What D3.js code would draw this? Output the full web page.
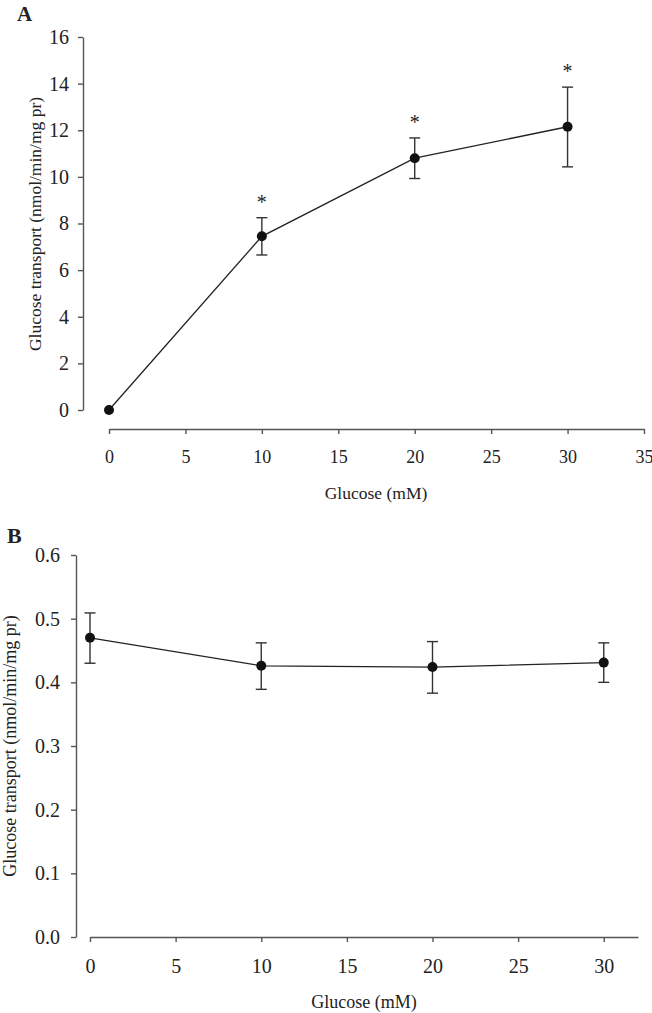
<!DOCTYPE html>
<html>
<head>
<meta charset="utf-8">
<script src="https://cdn.jsdelivr.net/npm/d3@7"></script>
<style>
  html, body { margin: 0; padding: 0; background: #fff; }
  svg { display: block; }
  text { font-family: "Liberation Serif", "Times New Roman", serif; fill: #222; }
</style>
</head>
<body>
<svg id="chart" width="652" height="1013"></svg>
<script>
// Panel A data
const glucoseA = [0, 10, 20, 30];
const transportA = [0, 7.45, 10.8, 12.15];
const errUpA = [0, 0.8, 0.87, 1.7];
const errDownA = [0, 0.8, 0.87, 1.72];
const starsA = [false, true, true, true];
const xTicksA = [0, 5, 10, 15, 20, 25, 30, 35];
const yTicksA = [0, 2, 4, 6, 8, 10, 12, 14, 16];

// Panel B data
const glucoseB = [0, 10, 20, 30];
const transportB = [0.47, 0.426, 0.424, 0.431];
const errUpB = [0.039, 0.036, 0.04, 0.031];
const errDownB = [0.04, 0.037, 0.041, 0.031];
const xTicksB = [0, 5, 10, 15, 20, 25, 30];
const yTicksB = [0, 0.1, 0.2, 0.3, 0.4, 0.5, 0.6];

const svg = d3.select("#chart");
const axisColor = "#555";
const lineColor = "#222";

function styleAxis(g, fontSize) {
  g.select(".domain").attr("stroke", axisColor).attr("stroke-width", 1.4);
  g.selectAll(".tick line").attr("stroke", axisColor).attr("stroke-width", 1.4);
  g.selectAll(".tick text").attr("fill", "#222").style("font-size", fontSize + "px")
    .style("font-family", '"Liberation Serif", "Times New Roman", serif');
}

function drawPanel(opts) {
  const { xs, ys, xVals, yVals, up, down, stars, xTicks, yTicks, yFmt,
          xAxisY, yAxisX, xTickFont, yTickFont, xPad, yPad } = opts;
  // axes
  const gx = svg.append("g").attr("transform", `translate(0,${xAxisY})`)
    .call(d3.axisBottom(xs).tickValues(xTicks).tickSize(5).tickSizeOuter(0).tickPadding(xPad).tickFormat(d3.format("d")));
  styleAxis(gx, xTickFont);
  const gy = svg.append("g").attr("transform", `translate(${yAxisX},0)`)
    .call(d3.axisLeft(ys).tickValues(yTicks).tickSize(5).tickSizeOuter(0).tickPadding(yPad).tickFormat(yFmt));
  styleAxis(gy, yTickFont);

  const data = xVals.map((x, i) => ({ x, y: yVals[i], u: up[i], d: down[i], s: stars ? stars[i] : false }));

  // error bars
  const eb = svg.append("g").attr("stroke", "#333").attr("stroke-width", 1.4).attr("fill", "none");
  data.filter(p => p.u > 0 || p.d > 0).forEach(p => {
    const cx = xs(p.x);
    eb.append("line").attr("x1", cx).attr("x2", cx).attr("y1", ys(p.y + p.u)).attr("y2", ys(p.y - p.d));
    eb.append("line").attr("x1", cx - 5.5).attr("x2", cx + 5.5).attr("y1", ys(p.y + p.u)).attr("y2", ys(p.y + p.u));
    eb.append("line").attr("x1", cx - 5.5).attr("x2", cx + 5.5).attr("y1", ys(p.y - p.d)).attr("y2", ys(p.y - p.d));
  });

  // line
  svg.append("path").datum(data)
    .attr("fill", "none").attr("stroke", lineColor).attr("stroke-width", 1.3)
    .attr("d", d3.line().x(p => xs(p.x)).y(p => ys(p.y)));

  // points
  svg.append("g").selectAll("circle").data(data).join("circle")
    .attr("cx", p => xs(p.x)).attr("cy", p => ys(p.y)).attr("r", 5)
    .attr("fill", "#111");

  // stars
  svg.append("g").selectAll("text").data(data.filter(p => p.s)).join("text")
    .attr("x", p => xs(p.x)).attr("y", p => ys(p.y + p.u) - 9)
    .attr("text-anchor", "middle").style("font-size", "20px").attr("fill", "#333")
    .text("*");
}

// Panel A
const xA = d3.scaleLinear().domain([0, 35]).range([109, 644]);
const yA = d3.scaleLinear().domain([0, 16]).range([410, 37]);
drawPanel({ xs: xA, ys: yA, xVals: glucoseA, yVals: transportA, up: errUpA, down: errDownA,
  stars: starsA, xTicks: xTicksA, yTicks: yTicksA, yFmt: d3.format("d"),
  xAxisY: 429, yAxisX: 83, xTickFont: 18, yTickFont: 20, xPad: 16, yPad: 9 });

svg.append("text").attr("x", 17).attr("y", 21).style("font-size", "21px").style("font-weight", "bold").attr("fill", "#111").text("A");
svg.append("text").attr("transform", "translate(41,224) rotate(-90)").attr("text-anchor", "middle")
  .style("font-size", "17.5px").text("Glucose transport (nmol/min/mg pr)");
svg.append("text").attr("x", 376).attr("y", 499).attr("text-anchor", "middle")
  .style("font-size", "17.5px").text("Glucose (mM)");

// Panel B
const xB = d3.scaleLinear().domain([0, 32]).range([90, 638]);
const yB = d3.scaleLinear().domain([0, 0.6]).range([937, 555]);
drawPanel({ xs: xB, ys: yB, xVals: glucoseB, yVals: transportB, up: errUpB, down: errDownB,
  stars: null, xTicks: xTicksB, yTicks: yTicksB, yFmt: d3.format(".1f"),
  xAxisY: 937, yAxisX: 76, xTickFont: 20, yTickFont: 20, xPad: 17, yPad: 11 });

svg.append("text").attr("x", 7).attr("y", 543).style("font-size", "22px").style("font-weight", "bold").attr("fill", "#111").text("B");
svg.append("text").attr("transform", "translate(16,746) rotate(-90)").attr("text-anchor", "middle")
  .style("font-size", "18px").text("Glucose transport (nmol/min/mg pr)");
svg.append("text").attr("x", 364).attr("y", 1008).attr("text-anchor", "middle")
  .style("font-size", "18px").text("Glucose (mM)");
</script>
</body>
</html>
